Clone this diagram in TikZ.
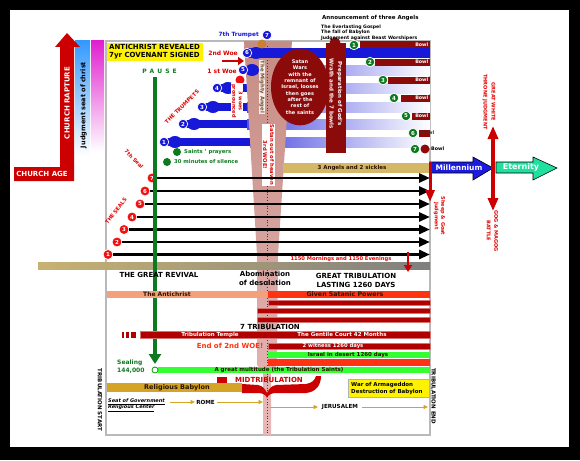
\documentclass[tikz,border=0pt]{standalone}
\usepackage{fontspec}
\setmainfont{DejaVu Sans}
\usetikzlibrary{arrows.meta,shapes.geometric}
\definecolor{cred}{HTML}{CC0000}
\definecolor{dred}{HTML}{8B0A0A}
\definecolor{bred}{HTML}{B00000}
\definecolor{ored}{HTML}{FF3311}
\definecolor{sred}{HTML}{EE1111}
\definecolor{tblue}{HTML}{1818D8}
\definecolor{sgreen}{HTML}{0D7A20}
\definecolor{lgreen}{HTML}{33FF33}
\definecolor{jblue}{HTML}{3399FF}
\definecolor{mag}{HTML}{E020D0}
\definecolor{tanb}{HTML}{D4B868}
\definecolor{gold}{HTML}{D4A426}
\definecolor{salmon}{HTML}{F5A078}
\definecolor{bandtop}{HTML}{C58D84}
\definecolor{bandbot}{HTML}{E8B8B8}
\definecolor{mill}{HTML}{1A1AE0}
\definecolor{eter}{HTML}{20E0A0}
\definecolor{darktxt}{HTML}{2A1200}
\definecolor{gtan}{HTML}{C8B272}
\definecolor{gmid}{HTML}{A39B7E}
\definecolor{ggray}{HTML}{7F7F7F}
\newcommand\fz[2]{\fontsize{#1}{#2}\selectfont\bfseries}
\tikzset{
  lbl/.style={inner sep=0pt, align=center},
  tcirc/.style={circle, fill=tblue, draw=white, line width=0.7, minimum size=9.5, inner sep=0pt, text=white, font=\fz{5.5}{6}},
  scirc/.style={circle, fill=sred, draw=white, line width=0.8, minimum size=10, inner sep=0pt, text=white, font=\fz{5.5}{6}},
  gcirc/.style={circle, fill=sgreen, draw=white, line width=0.7, minimum size=9.5, inner sep=0pt, text=white, font=\fz{5.5}{6}},
  sealarrow/.style={line width=2.8, -{Triangle[length=11,width=9]}},
  goldarrow/.style={gold, line width=0.9, -{Triangle[length=4.5,width=4]}},
  darkbar/.style={fill=bred, draw=bred!55!white, line width=0.5},
}
\begin{document}
\begin{tikzpicture}[x=1pt,y=-1pt]
\useasboundingbox (0,0) rectangle (580,460);
\fill[black] (0,0) rectangle (580,460);
\fill[white] (10,10) rectangle (569,447);

% left side bars
\shade[top color=jblue, middle color=jblue!85, bottom color=white] (75,41) rectangle (90,156);
\node[lbl, rotate=90, font=\fz{6.5}{7}] (jseat) at (83.5,105) {Judgment seat of christ};
\shade[top color=mag, middle color=mag!80, bottom color=white] (91,41) rectangle (104,152);
\fill[cred] (14,167) -- (60,167) -- (60,47) -- (55,47) -- (67,33) -- (80,47) -- (74,47) -- (74,181) -- (14,181) -- cycle;
\node[lbl, text=white, font=\fz{7}{8}] (cage) at (42,174) {CHURCH AGE};
\node[lbl, rotate=90, text=white, font=\fz{7}{8}] (crap) at (67,103) {CHURCH RAPTURE};

% main box
\draw[gray!55, line width=1.2] (106,41) rectangle (430,435);

% trumpets 1-4 (behind band)
\foreach \n/\cx/\cy/\se in {1/164/142/250, 2/183/124/247, 3/202/107/247, 4/217/88/247} {
  \shade[left color=tblue!75, middle color=tblue!20, right color=white] (\se,\cy-5) rectangle (430,\cy+5);
  \fill[tblue] (\cx,\cy-4) rectangle (\se,\cy+4);
  \fill[tblue] (\cx+11,\cy) ellipse [x radius=7pt, y radius=6pt];
}
\shade[left color=tblue!60, middle color=tblue!18, right color=white] (290,65) rectangle (430,75);

% band of the mighty angel
\shade[top color=bandtop, bottom color=bandbot] (244,41) -- (292,41) -- (278,255) -- (277,365) -- (271,372) -- (271,435) -- (263,435) -- (263,372) -- (257,365) -- (257,255) -- cycle;
\draw[red!80!black, dotted, line width=0.8] (267,46) -- (267,435);

% yellow box
\fill[yellow] (107,43) rectangle (203,61);
\node[lbl, anchor=west, align=left, font=\fz{7}{8}] (anti) at (109,52) {ANTICHRIST REVEALED\\7yr COVENANT SIGNED};

% trumpets 5, 6
\fill[tblue] (243,66) rectangle (258,74);
\fill[tblue] (252,70) ellipse [x radius=7pt, y radius=6pt];
\fill[tblue] (247,48) rectangle (430,58);
\fill[tblue] (256,53) ellipse [x radius=7pt, y radius=6pt];
\foreach \n/\cx/\cy in {1/164/142, 2/183/124, 3/202/107, 4/217/88, 5/243/70, 6/247/53, 7/267/35}
  \node[tcirc] (t\n) at (\cx,\cy) {\n};
\node[lbl, text=tblue, font=\fz{5.8}{6}, anchor=east] (tr7) at (259,35) {7th Trumpet};
\fill[brown!80!orange] (262,44) circle [radius=4.5pt];
\node[lbl, text=red!85!black, font=\fz{6}{7}, anchor=east] (woe2) at (238,53) {2nd Woe};
\coordinate (wa1) at (222,61);
\coordinate (wa2) at (244,61);
\draw[cred, line width=2.5, -{Triangle[length=6,width=8]}] (wa1) -- (wa2);
\node[lbl, text=red!85!black, font=\fz{6}{7}, anchor=east] (woe1) at (237,71) {1 st Woe};
\fill[sred] (240,80) circle [radius=4.5pt];
\node[lbl, rotate=-90, fill=white, inner sep=0.8, text=red!85!black, font=\fz{5}{6.5}] (woes) at (237,101) {3 woes\\pronounced};
\node[lbl, rotate=45, text=red!90!black, font=\fz{5.3}{6}] (ttr) at (182,107) {THE TRUMPETS};

% labels in band
\node[lbl, rotate=-90, fill=white!85!bandtop, inner sep=0.8, text=brown!60!black, font=\fz{5.3}{6}] (mighty) at (262,87) {The Mighty Angel};
\node[lbl, rotate=-90, fill=white, inner sep=0.8, text=red!85!black, font=\fz{5.3}{7}] (satout) at (268.5,155) {Satan out of heaven\\3rd WOE!};

% Satan ellipse and preparation bar
\node[ellipse, fill=dred, minimum width=58, minimum height=74, inner sep=0pt, text=white, align=center, font=\fz{5}{6.3}] (satan) at (300,87) {Satan\\Wars\\with the\\remnant of\\Israel, looses\\then goes\\after the\\rest of\\the saints};
\node[fill=dred, minimum width=20, minimum height=110, inner sep=0pt] (prep) at (336,98) {};
\fill[dred] (335,43) circle [radius=5.5pt];
\node[lbl, rotate=-90, text=white, font=\fz{5.5}{8.5}] (preptxt) at (336,94) {Preparation of God's\\Wrath and the 7 bowls};

% announcement
\node[lbl, anchor=west, font=\fz{5.5}{6}] (ann) at (322,18) {Announcement of three Angels};
\node[lbl, anchor=west, align=left, font=\fz{4.6}{5.5}] (ann2) at (321,32.5) {The Everlasting Gospel\\The fall of Babylon\\Judgement against Beast Worshipers};

% bowls
\foreach \n/\cx/\rx/\cy in {1/354/360/45, 2/370/375/62, 3/383/388/80, 4/394/401/98, 5/406/412/116} {
  \fill[dred] (\rx,\cy-3.5) rectangle (430,\cy+3.5);
  \node[gcirc] (b\n) at (\cx,\cy) {\n};
  \node[lbl, anchor=east, text=white, font=\fz{4.8}{5}] at (428.5,\cy) {Bowl};
}
\fill[dred] (419,129.5) rectangle (430,136.5);
\node[gcirc] (b6) at (413,133) {6};
\node[lbl, anchor=west, text=black!80, font=\fz{4.8}{5}] (bw6) at (421,133) {Bowl};
\node[gcirc] (b7) at (415,149) {7};
\fill[dred] (425,149) circle [radius=4.5pt];
\node[lbl, anchor=west, font=\fz{4.8}{5}] (bw7) at (431,149) {Bowl};

% saints
\fill[sgreen] (177,152) circle [radius=4pt];
\node[lbl, anchor=west, text=sgreen, font=\fz{5.3}{6}] (sp) at (184,152) {Saints ' prayers};
\fill[sgreen] (167,162) circle [radius=4pt];
\node[lbl, anchor=west, text=sgreen, font=\fz{5.3}{6}] (sil) at (174,162) {30 minutes of silence};

% 3 angels bar
\fill[tanb] (283,163) rectangle (430,173);
\node[lbl, text=darktxt, font=\fz{5.5}{6}] (ang3) at (352,168) {3 Angels and 2 sickles};

% seals
\foreach \n/\cx/\cy in {1/108/254.5, 2/117/242, 3/124/229.5, 4/132/217, 5/140/204, 6/145/191, 7/152/178} {
  \node[scirc] (s\n) at (\cx,\cy) {\n};
  \coordinate (se\n) at (430,\cy);
  \draw[sealarrow] (s\n) -- (se\n);
}
\node[lbl, rotate=-45, text=red!90!black, font=\fz{5.2}{6}] (seal7) at (134,159) {7th Seal};
\node[lbl, rotate=53, text=red!90!black, font=\fz{5.2}{6}] (theseals) at (116,211) {THE SEALS};

% pause line
\node[lbl, text=sgreen, font=\fz{6}{7}] (pause) at (159.5,71) {P\hspace{3pt}A\hspace{3pt}U\hspace{3pt}S\hspace{3pt}E};
\coordinate (ptop) at (155,77);
\coordinate (pbot) at (155,364);
\draw[sgreen, line width=3.6, -{Triangle[length=10,width=12]}] (ptop) -- (pbot);

% millennium / eternity
\draw[black, line width=0.6, fill=mill] (430,162) -- (473,162) -- (473,157) -- (493,168) -- (473,180) -- (473,173) -- (430,173) -- cycle;
\node[lbl, text=white, font=\fz{7.5}{8}] (mil) at (459,167.5) {Millennium};
\draw[black, line width=0.6, fill=eter] (496,162) -- (533,162) -- (533,157) -- (557,168) -- (533,180) -- (533,173) -- (496,173) -- cycle;
\node[lbl, text=white, font=\fz{8}{9}] (eter) at (521,167.5) {Eternity};
\coordinate (gw1) at (493,126);
\coordinate (gw2) at (493,211);
\draw[cred, line width=3.2, {Triangle[length=13,width=10]}-{Triangle[length=13,width=10]}] (gw1) -- (gw2);
\node[lbl, rotate=-90, text=red!90!black, font=\fz{5}{8}] (gwt) at (489,102) {GREAT WHITE\\THRONE JUDGMENT};
\node[lbl, rotate=-90, text=red!90!black, font=\fz{5}{7.5}] (gog) at (492.5,231) {GOG \& MAGOG\\BATTLE};
\coordinate (sg1) at (430,162);
\coordinate (sg2) at (430,202);
\draw[cred, line width=3, -{Triangle[length=12,width=9]}] (sg1) -- (sg2);
\node[lbl, rotate=-90, text=red!90!black, font=\fz{5}{6.5}] (sheep) at (439.5,216) {Sheep \& Goat\\Judgment};

% grey band
\shade[left color=gtan, middle color=gmid, right color=ggray] (38,262) rectangle (430,269);
\draw[sgreen, line width=3.6] (155,261) -- (155,270);
\node[lbl, text=red!90!black, font=\fz{5.2}{6}] (morn) at (341,259) {1150 Mornings and 1150 Evenings};
\coordinate (ra1) at (408,252);
\coordinate (ra2) at (408,272);
\draw[cred, line width=2.6, -{Triangle[length=7,width=8]}] (ra1) -- (ra2);

% texts below band
\node[lbl, font=\fz{7}{8}] (revival) at (159,275) {THE GREAT REVIVAL};
\node[lbl, font=\fz{7}{9}] (abom) at (265,278) {Abomination\\of desolation};
\node[lbl, font=\fz{7}{9}] (gtrib) at (356,280.5) {GREAT TRIBULATION\\LASTING 1260 DAYS};

% bars
\fill[salmon] (107,291) rectangle (268,298);
\node[lbl, text=darktxt, font=\fz{6}{7}] (antic) at (167,294.5) {The Antichrist};
\fill[ored] (268,291) rectangle (430,298);
\node[lbl, text=darktxt, font=\fz{6.3}{7}] (satp) at (345,294.5) {Given Satanic Powers};
\draw[darkbar] (268,300) rectangle (430,305);
\draw[darkbar] (257,308) rectangle (430,313);
\draw[darkbar] (257,317) rectangle (430,322);
\node[lbl, font=\fz{7}{8}] (trib7) at (270,327) {7 TRIBULATION};
\draw[darkbar] (140,331.5) rectangle (430,338);
\fill[bred] (121.5,331.5) rectangle (124,338);
\fill[bred] (126,331.5) rectangle (128.5,338);
\fill[bred] (131,331.5) rectangle (136,338);
\node[lbl, text=white, font=\fz{5.5}{6}] (ttemple) at (210,334.8) {Tribulation Temple};
\node[lbl, text=white, font=\fz{5.5}{6}] (gentile) at (342,334.8) {The Gentile Court 42 Months};
\node[lbl, text=ored, font=\fz{7}{8}] (endwoe) at (230,346) {End of 2nd WOE!};
\draw[darkbar] (268,343) rectangle (430,349);
\node[lbl, text=white, font=\fz{5.3}{6}] (witness) at (333,346) {2 witness 1260 days};
\fill[lgreen] (268,352) rectangle (430,358);
\node[lbl, text=darktxt, font=\fz{5.5}{6}] (israel) at (348,355) {Israel in desert 1260 days};
\fill[ored] (268,359) rectangle (430,366);
\fill[lgreen] (158,367) rectangle (430,373);
\node[lbl, text=darktxt, font=\fz{5.5}{6}] (multi) at (279,370) {A great multitude (the Tribulation Saints)};
\node[circle, draw=green!60!black, fill=white, minimum size=6, inner sep=0pt, line width=0.8] (c144) at (155,370) {};
\node[lbl, anchor=west, text=sgreen, font=\fz{6}{7}] (sealing) at (117,362.5) {Sealing};
\node[lbl, anchor=west, text=sgreen, font=\fz{6}{7}] (n144) at (117,371) {144,000};

% Babylon, midtribulation
\fill[gold] (107,383) rectangle (242,392);
\node[lbl, text=darktxt, font=\fz{6.5}{7}] (relbab) at (177,387.5) {Religious Babylon};
\fill[cred] (217,377) rectangle (227,383);
\node[lbl, text=cred, font=\fz{7}{8}] (midt) at (269,380) {MIDTRIBULATION};
\fill[cred] (242,384) -- (258,385) .. controls (263,386) and (265,389) .. (267,393) .. controls (269,389) and (271,386) .. (276,385) -- (306,384) .. controls (312,383) and (315,380) .. (316,376) -- (321,376) .. controls (321,385) and (316,392) .. (306,393) -- (276,393) .. controls (271,393) and (268,395) .. (267,398) .. controls (266,395) and (263,393) .. (258,393) -- (242,393) -- cycle;
\draw[fill=yellow, draw=gray!60, line width=0.5] (348,379) rectangle (429,397);
\node[lbl, anchor=west, align=left, font=\fz{5.5}{7}] (war) at (351,388) {War of Armageddon\\Destruction of Babylon};

% seats
\node[lbl, anchor=west, align=left, font=\fz{5}{6}\itshape] (seat) at (108,405) {\underline{Seat of Government}\\\underline{Religious Center}};
\coordinate (g1) at (170,402);
\coordinate (g2) at (195,402);
\node[lbl, font=\fz{5.6}{6}] (rome) at (205.5,402) {ROME};
\coordinate (g3) at (217,402);
\coordinate (g4) at (263,402);
\draw[goldarrow] (g1) -- (g2);
\draw[goldarrow] (g3) -- (g4);
\coordinate (g5) at (270,407);
\coordinate (g6) at (318,407);
\node[lbl, font=\fz{5.6}{6}] (jeru) at (340,407) {JERUSALEM};
\coordinate (g7) at (362,407);
\coordinate (g8) at (428,407);
\draw[goldarrow] (g5) -- (g6);
\draw[goldarrow] (g7) -- (g8);

\node[lbl, rotate=-90, font=\fz{5.5}{6}] (tstart) at (100,400) {TRIBULATION START};
\node[lbl, rotate=-90, font=\fz{5.5}{6}] (tend) at (433.5,396) {TRIBULATION END};
\end{tikzpicture}
\end{document}
